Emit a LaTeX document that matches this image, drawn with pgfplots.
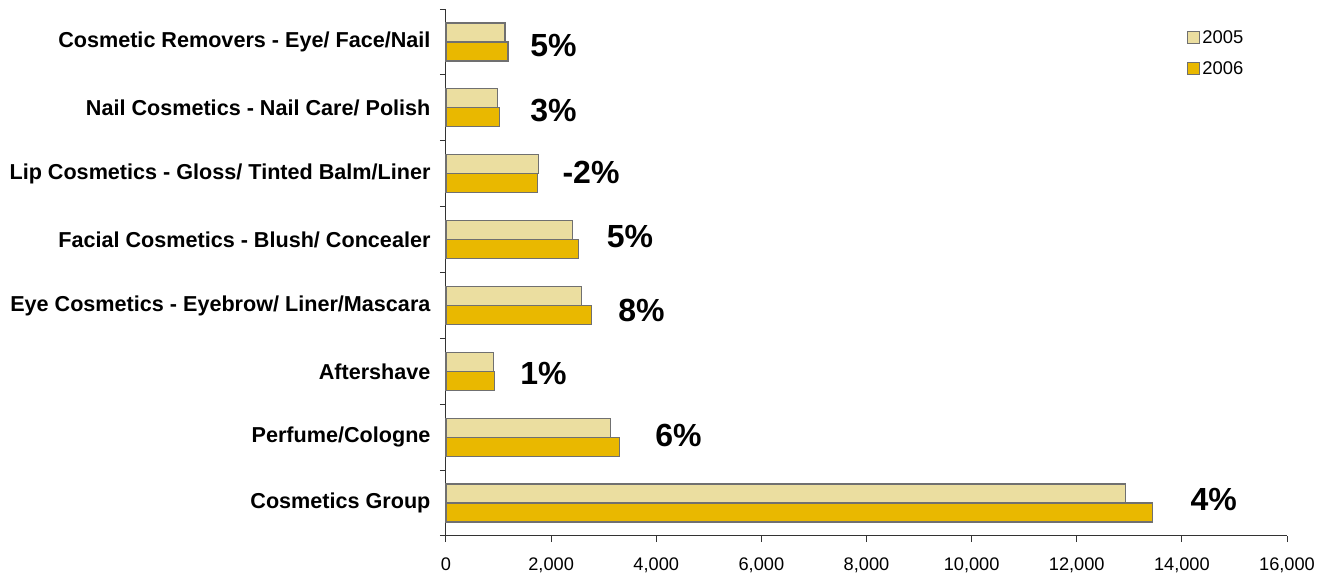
\documentclass[border=0pt]{standalone}
\usepackage{fontspec}
\setmainfont{Liberation Sans}
\usepackage{pgfplots}
\pgfplotsset{compat=1.18}
\definecolor{c2005}{RGB}{235,222,160}
\definecolor{c2006}{RGB}{233,184,0}
\definecolor{edge}{RGB}{112,112,112}
\begin{document}
\begin{tikzpicture}
\begin{axis}[
  at={(0,0)}, anchor=south west,
  scale only axis, width=841pt, height=527pt,
  xbar, bar width=19pt,
  clip=false,
  xmin=0, xmax=16000, ymin=-0.5, ymax=7.5,
  xtick={0,2000,...,16000},
  scaled x ticks=false,
  xticklabel style={font=\fontsize{18.2}{20}\selectfont, yshift=-12pt},
  /pgf/number format/1000 sep={,},
  /pgf/number format/assume math mode=true,
  ytick={0,...,7},
  yticklabels={Cosmetics Group, Perfume/Cologne, Aftershave, Eye Cosmetics - Eyebrow/ Liner/Mascara, Facial Cosmetics - Blush/ Concealer, Lip Cosmetics - Gloss/ Tinted Balm/Liner, Nail Cosmetics - Nail Care/ Polish, Cosmetic Removers - Eye/ Face/Nail},
  yticklabel style={font=\fontsize{21.6}{24}\selectfont\bfseries, anchor=east, xshift=-6pt},
  minor ytick={-0.5,0.5,...,7.5},
  major y tick style={draw=none},
  tick align=outside,
  major tick length=6pt, minor tick length=6pt,
  tick style={black!80, line width=1pt},
  axis lines*=left,
  axis line style={black!80, line width=1pt},
  legend style={draw=none, fill=none, at={(0.881,0.9165)}, anchor=west, inner sep=0pt, row sep=12.5pt, font=\fontsize{18.4}{20}\selectfont, cells={anchor=west}},
  legend image code/.code={\begin{scope}[#1]\draw (0pt,-6pt) rectangle (12pt,6pt);\end{scope}},
]
\addplot[bar shift=9.5pt, fill=c2005, draw=edge, line width=1.2pt] coordinates {(12927,0) (3134,1) (900,2) (2582,3) (2404,4) (1764,5) (984,6) (1122,7)};
\addplot[bar shift=-9.5pt, fill=c2006, draw=edge, line width=1.2pt] coordinates {(13441,0) (3305,1) (926,2) (2773,3) (2518,4) (1737,5) (1015,6) (1180,7)};
\legend{2005,2006}
\begin{scope}[every node/.style={font=\fontsize{32}{38}\selectfont\bfseries}]
\node at (axis cs:2046,6.94) {5\%};
\node at (axis cs:2046,5.96) {3\%};
\node at (axis cs:2759,5.02) {-2\%};
\node at (axis cs:3501,4.05) {5\%};
\node at (axis cs:3720,2.93) {8\%};
\node at (axis cs:1855,1.97) {1\%};
\node at (axis cs:4424,1.03) {6\%};
\node at (axis cs:14605,0.05) {4\%};
\end{scope}
\end{axis}
\path (-446pt,-37pt) rectangle (884pt,536pt);
\end{tikzpicture}
\end{document}
